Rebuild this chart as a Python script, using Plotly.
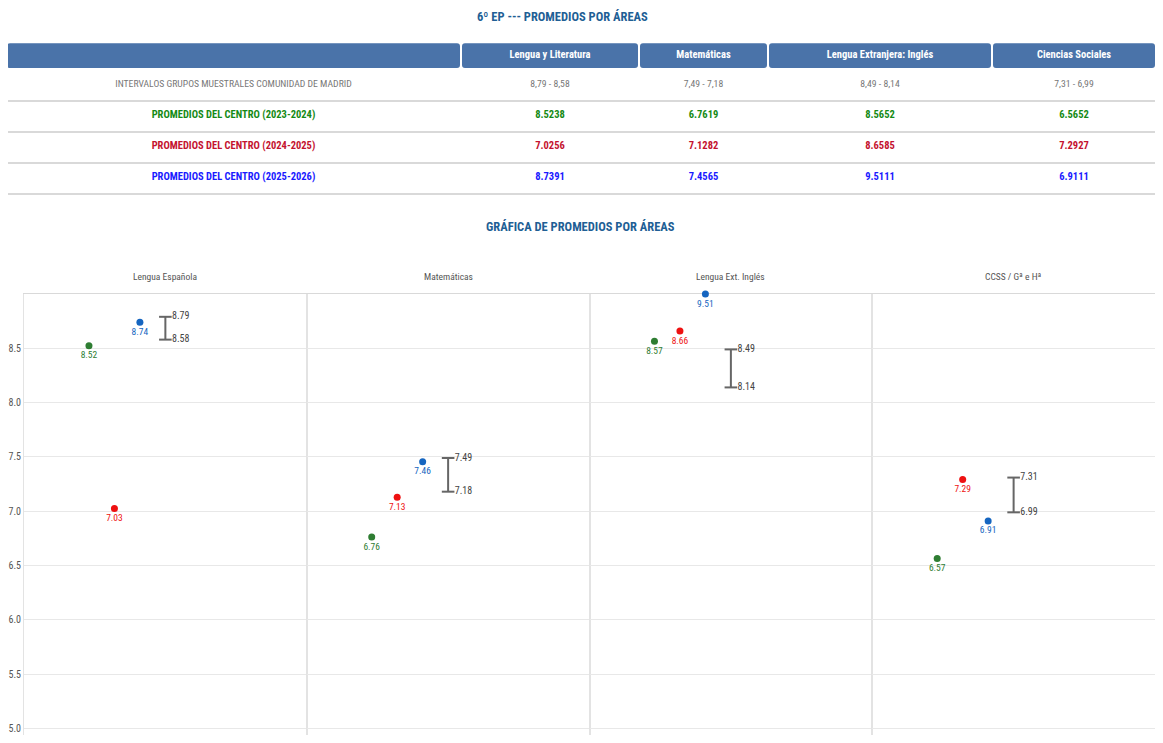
import plotly.graph_objects as go

# DATA ###########################################################################################

areas_table = ['Lengua y Literatura', 'Matemáticas', 'Lengua Extranjera: Inglés', 'Ciencias Sociales']
areas_chart = ['Lengua Española', 'Matemáticas', 'Lengua Ext. Inglés', 'CCSS / Gª e Hª']

interval_hi = [8.79, 7.49, 8.49, 7.31]
interval_lo = [8.58, 7.18, 8.14, 6.99]

courses = ['2023-2024', '2024-2025', '2025-2026']
prom_2324 = [8.5238, 6.7619, 8.5652, 6.5652]
prom_2425 = [7.0256, 7.1282, 8.6585, 7.2927]
prom_2526 = [8.7391, 7.4565, 9.5111, 6.9111]

y_ticks = [5.0, 5.5, 6.0, 6.5, 7.0, 7.5, 8.0, 8.5]

# LAYOUT / STYLE #################################################################################

W, H = 1147, 727
FONT = 'Roboto Condensed, Liberation Sans Narrow, Arial Narrow, Roboto, sans-serif'
TITLE_COLOR = '#1f5f95'
HEADER_FILL = '#4a73a9'
table_colors = ['#158a15', '#c4122f', '#1a1aff']
dot_colors = ['#2e7d32', '#ee1111', '#1565c0']
col_edges = [-2, 453, 631, 760, 984, 1148]
Y_TOP = 9.0
Y_BOTTOM = 4.94
PANEL_LEFT = 16


def px(x):
    return x / W


def py(y):
    return 1 - y / H


series = [prom_2324, prom_2425, prom_2526]

fig = go.Figure()

# TABLE ##########################################################################################

centers = [(a + b) / 2 for a, b in zip(col_edges[:-1], col_edges[1:])]
widths = [b - a - 2 for a, b in zip(col_edges[:-1], col_edges[1:])]

fig.add_trace(go.Bar(x=centers, y=[0.8] * 5, base=[-0.35] * 5, width=widths,
                     marker=dict(color=HEADER_FILL, line=dict(width=0), cornerradius=3),
                     xaxis='x5', yaxis='y5', hoverinfo='skip'))

fig.add_trace(go.Scatter(x=centers[1:], y=[0.05] * 4, mode='text', text=areas_table,
                         textfont=dict(family=FONT, size=10.5, color='white', weight='bold'),
                         xaxis='x5', yaxis='y5', hoverinfo='skip'))

row1 = ['INTERVALOS GRUPOS MUESTRALES COMUNIDAD DE MADRID'] + \
       [('%.2f - %.2f' % (h, l)).replace('.', ',') for h, l in zip(interval_hi, interval_lo)]
fig.add_trace(go.Scatter(x=centers, y=[0.98] * 5, mode='text', text=row1,
                         textfont=dict(family=FONT, size=9.7, color='#777777'),
                         xaxis='x5', yaxis='y5', hoverinfo='skip'))

for r, (course, vals, color) in enumerate(zip(courses, series, table_colors)):
    row = ['PROMEDIOS DEL CENTRO (%s)' % course] + ['%.4f' % v for v in vals]
    fig.add_trace(go.Scatter(x=centers, y=[r + 1.98] * 5, mode='text', text=row,
                             textfont=dict(family=FONT, size=10.5, color=color, weight='bold'),
                             xaxis='x5', yaxis='y5', hoverinfo='skip'))

# CHART ##########################################################################################

panel_w = (W - PANEL_LEFT) / 4
annotations = []

for i in range(4):
    xa = 'x' if i == 0 else 'x%d' % (i + 1)
    ya = 'y' if i == 0 else 'y%d' % (i + 1)

    for s, (vals, color) in enumerate(zip(series, dot_colors)):
        v = vals[i]
        fig.add_trace(go.Scatter(x=[s], y=[min(v, Y_TOP)], mode='markers+text',
                                 text=['%.2f' % v], textposition='bottom center',
                                 marker=dict(size=7, color=color),
                                 textfont=dict(family=FONT, size=9.5, color=color),
                                 cliponaxis=False, xaxis=xa, yaxis=ya))

    fig.add_trace(go.Scatter(x=[3, 3], y=[interval_hi[i], interval_lo[i]],
                             mode='lines+markers+text',
                             text=['%.2f' % interval_hi[i], '%.2f' % interval_lo[i]],
                             textposition='middle right',
                             line=dict(color='#666666', width=2),
                             marker=dict(symbol='line-ew', size=9,
                                         line=dict(color='#666666', width=2)),
                             textfont=dict(family=FONT, size=10, color='#444444'),
                             cliponaxis=False, xaxis=xa, yaxis=ya))

    x0 = PANEL_LEFT + i * panel_w
    dom = [px(x0), min(1.0, px(x0 + panel_w))]
    xkey = 'xaxis' if i == 0 else 'xaxis%d' % (i + 1)
    ykey = 'yaxis' if i == 0 else 'yaxis%d' % (i + 1)
    fig.layout[xkey] = dict(domain=dom, range=[-2.55, 8.55], anchor=ya,
                            showgrid=False, zeroline=False, showticklabels=False,
                            showline=True, mirror=True, linecolor='#d9d9d9', linewidth=1,
                            layer='below traces')
    yax = dict(domain=[0, py(286)], range=[Y_BOTTOM, Y_TOP], anchor=xa,
               tickvals=y_ticks, tickformat='.1f', showgrid=True, gridcolor='#e8e8e8',
               zeroline=False, showline=True, mirror=True, linecolor='#e3e3e3', linewidth=1,
               layer='below traces',
               ticks='', tickfont=dict(family=FONT, size=10, color='#555555'))
    if i > 0:
        yax['matches'] = 'y'
        yax['showticklabels'] = False
    fig.layout[ykey] = yax

    annotations.append(dict(text=areas_chart[i], x=px(x0 + panel_w / 2), y=py(268),
                            xref='paper', yref='paper', showarrow=False,
                            xanchor='center', yanchor='middle',
                            font=dict(family=FONT, size=9.5, color='#555555')))

annotations.append(dict(text='6º EP --- PROMEDIOS POR ÁREAS', x=px(554), y=py(9),
                        xref='paper', yref='paper', showarrow=False,
                        xanchor='center', yanchor='middle',
                        font=dict(family=FONT, size=12.5, color=TITLE_COLOR, weight='bold')))
annotations.append(dict(text='GRÁFICA DE PROMEDIOS POR ÁREAS', x=px(572), y=py(218),
                        xref='paper', yref='paper', showarrow=False,
                        xanchor='center', yanchor='middle',
                        font=dict(family=FONT, size=12.5, color=TITLE_COLOR, weight='bold')))

fig.update_layout(
    width=W, height=H,
    margin=dict(l=0, r=0, t=0, b=0),
    paper_bgcolor='white', plot_bgcolor='white',
    showlegend=False,
    font=dict(family=FONT),
    annotations=annotations,
    xaxis5=dict(domain=[0, 1], range=[0, W], visible=False, anchor='y5'),
    yaxis5=dict(domain=[py(188.6), py(33.6)], range=[4.6, -0.4], anchor='x5',
                tickvals=[1.5, 2.5, 3.5, 4.5], showticklabels=False, ticks='',
                showgrid=True, gridcolor='#d9d9d9', gridwidth=2, zeroline=False),
)

fig.write_html('out.html')
